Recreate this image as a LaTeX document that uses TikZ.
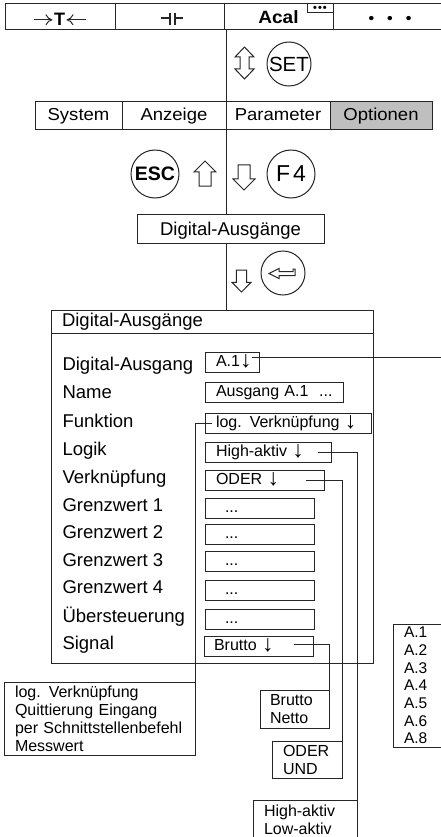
\documentclass[tikz,border=0pt]{standalone}
\usepackage{fontspec}
\usepackage{tikz}
\usetikzlibrary{arrows.meta}
\setmainfont{Liberation Sans}
\newfontfamily\widefont[FakeStretch=1.07]{Liberation Sans}
\definecolor{tabgrey}{gray}{0.75}
\definecolor{linegrey}{gray}{0.15}
\newcommand{\fs}[1]{\fontsize{#1}{1.2\dimexpr#1pt\relax}\selectfont}
\newcommand{\dn}{{\fontsize{23}{23}\selectfont\raisebox{-1pt}{↓}}}
\tikzstyle{cell}=[draw,anchor=north west,outer sep=0pt,inner sep=0pt,minimum height=26pt,text height=14pt,text depth=0pt,font=\widefont\fs{17.8}]
\tikzstyle{tab}=[draw,anchor=north west,outer sep=0pt,inner sep=0pt,minimum height=28pt,text height=13pt,text depth=3pt,font=\widefont\fs{17.3}]
\tikzstyle{key}=[draw,circle,inner sep=0pt,minimum size=44pt]
\tikzstyle{field}=[draw,anchor=north west,outer sep=0pt,inner xsep=0pt,inner ysep=0pt,minimum height=20pt,text height=12pt,text depth=4pt,font=\fs{16},align=left,text width=#1,execute at begin node={\hspace*{11pt}}]
\tikzstyle{lbl}=[anchor=base west,inner sep=0pt,font=\fs{18.5}]
\tikzstyle{listbox}=[draw,anchor=north west,outer sep=0pt,inner ysep=0pt,align=left,font={\fontsize{16}{18}\selectfont}]
\tikzset{
	hollowdown/.pic={\draw (-6,-12.5) -- (6,-12.5) -- (6,1.5) -- (11,1.5) -- (0,12.5) -- (-11,1.5) -- (-6,1.5) -- cycle;},
	hollowboth/.pic={\draw (0,-16) -- (9.5,-6) -- (4.5,-6) -- (4.5,6) -- (9.5,6) -- (0,16) -- (-9.5,6) -- (-4.5,6) -- (-4.5,-6) -- (-9.5,-6) -- cycle;}
}

\begin{document}
\begin{tikzpicture}[x=1pt,y=-1pt,line width=1pt,color=linegrey,text=black]%

	\useasboundingbox (0,0) rectangle (440,837);

	\begin{scope}
		\draw  (5,4)    node (Bar_Trim)  [cell,minimum width=110pt]  {};
		\draw  (115,4)  node (Bar_Cap)   [cell,minimum width=109pt]  {};
		\draw  (224,4)  node (Bar_Acal)  [cell,minimum width=109pt]  {\textbf{Acal}};
		\draw  (333,4)  node (Bar_More)  [cell,minimum width=110pt]  {\hspace*{4pt}\textbf{\fs{15}•\hspace{13pt}•\hspace{13pt}•}};
		\draw  (307,4)  node (Bar_Small) [draw,anchor=north west,outer sep=0pt,inner sep=0pt,minimum width=26pt,minimum height=9pt,text height=7pt,text depth=0pt,font=\fs{11}] {\textbf{•\hspace{1pt}•\hspace{1pt}•}};
		\draw  (59.5,26) node (Bar_T)    [anchor=base,inner sep=0pt,font=\fs{18}] {\textbf{T}};

		\draw [-{To[length=7pt,width=11pt]}] ([xshift=-20pt]Bar_T.west) -- ([xshift=-1pt]Bar_T.west);
		\draw [-{To[length=7pt,width=11pt]}] ([xshift=21pt]Bar_T.east) -- ([xshift=1pt]Bar_T.east);

		\draw [line width=1.3pt] (160.5,18) -- (170,18) (170,13.5) -- (170,25) (175,13.5) -- (175,25) (175,18) -- (182.5,18);
	\end{scope}

	\begin{scope}
		\draw  (35,102)   node (Tab_System)    [tab,minimum width=87pt]            {System};
		\draw  (122,102)  node (Tab_Anzeige)   [tab,minimum width=104pt]           {Anzeige};
		\draw  (226,102)  node (Tab_Parameter) [tab,minimum width=104pt]           {Parameter};
		\draw  (330,102)  node (Tab_Optionen)  [tab,minimum width=102pt,fill=tabgrey] {Optionen};

		\draw  (137,214)  node (Box_Digital)   [tab,minimum width=187pt,minimum height=29pt,text height=15pt,text depth=2pt,font=\fs{18.5}] {Digital-Ausgänge};

		\draw (Tab_Parameter.north west |- Bar_Acal.south) -- (Tab_Parameter.north west);
		\draw (Tab_Parameter.south west) -- (Tab_Parameter.south west |- Box_Digital.north);
	\end{scope}

	\begin{scope}
		\draw  (289,64)   node (Key_Set)   [key,font=\fs{20.5}]  {SET};
		\draw  (155,174)  node (Key_Esc)   [key,minimum size=48pt,font=\fs{19.5}]  {\textbf{ESC}};
		\draw  (291,174)  node (Key_F)     [key,minimum size=48pt,font=\fs{23}]  {F\hspace{3pt}4};
		\draw  (283,273)  node (Key_Enter) [key]  {};

		\pic at (244.5,63) {hollowboth};
		\pic [yscale=-1] at (205,173.5) {hollowdown};
		\pic at (244,177.5) {hollowdown};
		\pic [xscale=0.87,yscale=0.88] at (241.5,281) {hollowdown};

		\draw (269,273.5) -- (279,268.5) -- (279,271.5) -- (293,271.5) -- (293,269) -- (295,269) -- (295,275.5) -- (279,275.5) -- (279,278.5) -- cycle;
	\end{scope}

	\begin{scope}
		\draw  (51,310)    node (Dialog_Title) [draw,anchor=north west,outer sep=0pt,inner xsep=11pt,inner ysep=0pt,minimum height=23.5pt,text height=14pt,text depth=4pt,font=\fs{18.5},align=left,text width=300pt] {Digital-Ausgänge};
		\draw  (51,333.5)  node (Dialog_Body)  [draw,anchor=north west,outer sep=0pt,inner sep=0pt,minimum width=322pt,minimum height=329.5pt] {};

		\draw (Tab_Parameter.south west |- Box_Digital.south) -- (Tab_Parameter.south west |- Dialog_Title.north);

		\draw  (62,370)  node (Label_Digital)  [lbl]  {Digital-Ausgang};
		\draw  (62,398)  node (Label_Name)     [lbl]  {Name};
		\draw  (62,427)  node (Label_Funktion) [lbl]  {Funktion};
		\draw  (62,455)  node (Label_Logik)    [lbl]  {Logik};
		\draw  (62,483)  node (Label_Oder)     [lbl]  {Verknüpfung};
		\draw  (62,511)  node (Label_Grenz_1)  [lbl]  {Grenzwert 1};
		\draw  (62,538)  node (Label_Grenz_2)  [lbl]  {Grenzwert 2};
		\draw  (62,566)  node (Label_Grenz_3)  [lbl]  {Grenzwert 3};
		\draw  (62,593)  node (Label_Grenz_4)  [lbl]  {Grenzwert 4};
		\draw  (62,622)  node (Label_Ueber)    [lbl]  {Übersteuerung};
		\draw  (62,649)  node (Label_Signal)   [lbl]  {Signal};

		\draw  (205,352)  node (Field_Digital)  [field=54pt]   {A.1\dn};
		\draw  (205,382)  node (Field_Name)     [field=138pt]  {Ausgang A.1\ \ ...};
		\draw  (205,413)  node (Field_Funktion) [field=166pt]  {log. Verknüpfung \dn};
		\draw  (205,442)  node (Field_Logik)    [field=126pt]  {High-aktiv \dn};
		\draw  (205,470)  node (Field_Oder)     [field=119pt]  {ODER \dn};
		\draw  (205,498)  node (Field_Grenz_1)  [field=109pt]  {\hspace*{9pt}...};
		\draw  (205,524)  node (Field_Grenz_2)  [field=109pt]  {\hspace*{9pt}...};
		\draw  (205,551)  node (Field_Grenz_3)  [field=109pt]  {\hspace*{9pt}...};
		\draw  (205,580)  node (Field_Grenz_4)  [field=109pt]  {\hspace*{9pt}...};
		\draw  (205,609)  node (Field_Ueber)    [field=109pt]  {\hspace*{9pt}...};
		\draw  (204,636)  node (Field_Signal)   [field=109pt]  {\hspace*{-1pt}Brutto \dn};
	\end{scope}

	\begin{scope}
		\draw  (4,682)    node (List_Funktion) [listbox,inner xsep=11pt,minimum height=73pt,text width=169pt] {log. Verknüpfung\\Quittierung Eingang\\per Schnittstellenbefehl\\Messwert};
		\draw  (260,690)  node (List_Signal)   [listbox,inner xsep=10pt,minimum height=38pt,text width=49pt]  {Brutto\\Netto};
		\draw  (272,741)  node (List_Oder)     [listbox,inner xsep=11pt,minimum height=37pt,text width=48pt]  {ODER\\UND};
		\draw  (253,800)  node (List_Logik)    [listbox,inner xsep=11pt,minimum height=40pt,text width=82pt]  {High-aktiv\\Low-aktiv};
		\draw  (393.5,624) node (List_Digital) [listbox,inner xsep=10.5pt,minimum height=123pt,text width=50pt,font={\fontsize{15.5}{17.7}\selectfont}] {A.1\\A.2\\A.3\\A.4\\A.5\\A.6\\A.8};

		\coordinate (Digital_End) at (442,357);

		\draw ([shift={(-7pt,5pt)}]Field_Digital.east) -- (Digital_End);
		\draw ([xshift=7pt]Field_Funktion.west) -| ([yshift=-3pt]List_Funktion.north east);
		\draw ([xshift=-13pt]Field_Logik.east) -| (List_Logik.north east);
		\draw ([xshift=-18pt]Field_Oder.east) -| ([yshift=-6pt]List_Oder.north east);
		\draw ([shift={(-19pt,2pt)}]Field_Signal.east) -| ([yshift=-8pt]List_Signal.north east);
	\end{scope}

\end{tikzpicture}
\end{document}
